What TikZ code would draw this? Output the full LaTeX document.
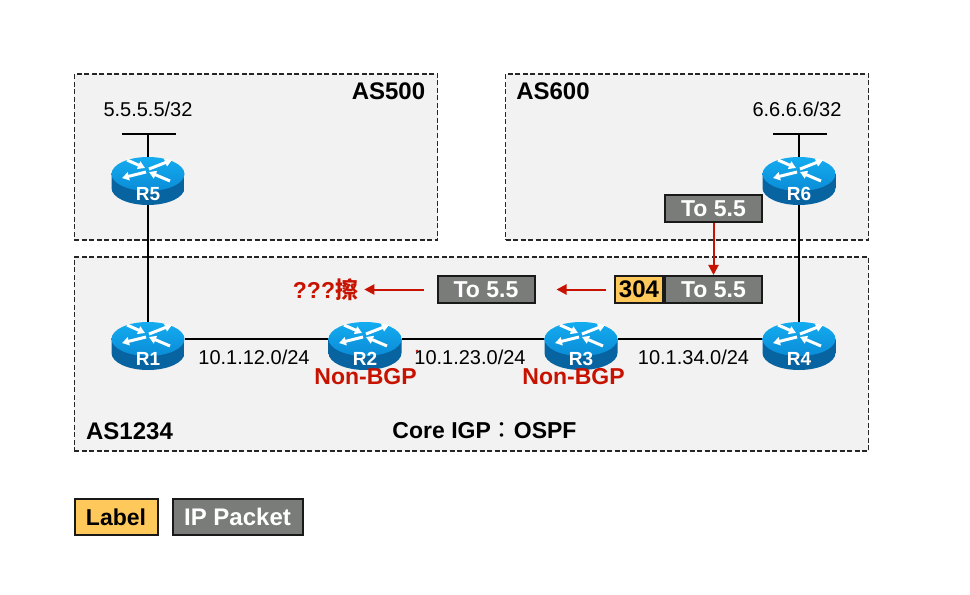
\documentclass[tikz,border=0pt]{standalone}
\usepackage{fontspec}
\setmainfont{Liberation Sans}
\newfontfamily\cjk{Noto Sans CJK TC}
\usetikzlibrary{arrows.meta,positioning,shapes.geometric}
\definecolor{asgrey}{RGB}{241,242,241}
\definecolor{pktgrey}{RGB}{122,124,122}
\definecolor{labelyellow}{RGB}{255,200,90}
\definecolor{alertred}{RGB}{200,18,0}
\definecolor{routertop}{RGB}{20,172,240}
\definecolor{routermid}{RGB}{10,140,215}
\definecolor{routerside}{RGB}{18,128,190}
\definecolor{routeredge}{RGB}{8,100,160}
\newcommand{\fsize}[1]{\fontsize{#1bp}{#1bp}\selectfont}

\begin{document}
\begin{tikzpicture}[
			x=1bp, y=-1bp,
			asbox/.style={rectangle, draw=black!85, fill=asgrey, dash pattern=on 5bp off 2.5bp, line width=1.4bp, inner sep=0pt},
			astext/.style={font=\fsize{24}\bfseries, inner sep=0pt},
			nettext/.style={font=\fsize{20}, inner sep=0pt},
			redtext/.style={font=\fsize{23}\bfseries, text=alertred, inner sep=0pt},
			routerbody/.style={ellipse, minimum width=73bp, minimum height=34bp, inner sep=0pt, outer sep=0pt},
			routertext/.style={font=\fsize{19}\bfseries, text=white, inner sep=0pt},
			link/.style={draw=black, line width=2bp},
			pktbox/.style={rectangle, draw=black!90, fill=pktgrey, line width=2bp, inner sep=0pt, minimum width=97bp, minimum height=27bp, text=white, font=\fsize{23}\bfseries},
			lblbox/.style={rectangle, draw=black!90, fill=labelyellow, line width=2bp, inner sep=0pt, minimum height=27bp, text=black, font=\fsize{24}\bfseries},
			arrow/.style={->, >={Triangle[width=10bp,length=10bp]}, draw=alertred, fill=alertred, line width=2bp},
			routerarrow/.style={white, line width=3bp, -{Triangle[width=8bp,length=7bp]}},
			routerpic/.pic={
				\shade[left color=routeredge, middle color=routerside, right color=routeredge]
					(-36.5,0) -- (-36.5,14) .. controls (-36.5,23.5) and (-20,31) .. (0,31)
					.. controls (20,31) and (36.5,23.5) .. (36.5,14) -- (36.5,0) -- cycle;
				\shade[top color=routertop, bottom color=routermid] (0,0) ellipse [x radius=36.5, y radius=17];
				\draw[routerarrow] (-21,-14) -- (-3,-6);
				\draw[routerarrow] (1,-5) -- (24,-14);
				\draw[routerarrow] (-2,-2) -- (-26,4);
				\draw[routerarrow] (22,7) -- (1,-2);
			}
			]
			\useasboundingbox (0,0) rectangle (970,595);

			% AS areas
			\node[asbox, minimum width=363bp, minimum height=166bp] (as500) at (256,157) {};
			\node[asbox, minimum width=363bp, minimum height=166bp] (as600) at (687,157) {};
			\node[asbox, minimum width=794bp, minimum height=194bp] (as1234) at (471.5,354) {};
			\node[astext] (as500text) at (388.5,91) {AS500};
			\node[astext] (as600text) at (553,91) {AS600};
			\node[astext] (as1234text) at (129.5,431) {AS1234};
			\node[astext, font=\fsize{23}\bfseries] (coretext) at (484.5,431) {Core IGP{\cjk\mdseries ：}OSPF};

			% Routers
			\foreach \name/\xpos/\ypos in {R1/148/339,R2/365/339,R3/581/339,R4/799/339,R5/148/174,R6/799/174}
				\node[routerbody] (\name) at (\xpos,\ypos) {};

			% Networks
			\coordinate (net5) at (148,134);
			\coordinate (net6) at (799,134);
			\coordinate (net5l) at (122,134);
			\coordinate (net5r) at (176,134);
			\coordinate (net6l) at (773,134);
			\coordinate (net6r) at (827,134);
			\draw[link] (net5l) -- (net5r);
			\draw[link] (net6l) -- (net6r);
			\draw[link] (net5) -- (R5);
			\draw[link] (net6) -- (R6);
			\draw[link] (R5) -- (R1);
			\draw[link] (R6) -- (R4);
			\draw[link] (R1) -- (R2);
			\draw[link] (R2) -- (R3);
			\draw[link] (R3) -- (R4);

			\foreach \name in {R1,R2,R3,R4,R5,R6}{
				\pic at (\name) {routerpic};
				\node[routertext] (\name text) at ([yshift=-20bp]\name.center) {\name};
			}

			% Labels
			\node[nettext] (net5text) at (148,109) {5.5.5.5/32};
			\node[nettext] (net6text) at (797,109) {6.6.6.6/32};
			\node[nettext] (net12text) at (254,357) {10.1.12.0/24};
			\node[nettext] (net23text) at (470,357) {10.1.23.0/24};
			\node[nettext] (net34text) at (693.5,357) {10.1.34.0/24};
			\node[redtext] (nonbgp2) at (365.5,377) {Non-BGP};
			\node[redtext] (nonbgp3) at (573.5,377) {Non-BGP};
			\node[circle, fill=alertred, inner sep=0pt, minimum size=3bp] (reddot) at (417,351) {};

			% Packets
			\node[pktbox] (toppkt) at (713.5,208.5) {To 5.5};
			\node[lblbox, minimum width=48bp] (stacklabel) at (639,289.5) {304};
			\node[pktbox, right=0pt of stacklabel] (stackpkt) {To 5.5};
			\node[pktbox] (poppkt) at (486,289.5) {To 5.5};
			\node[redtext] (erasetext) at (325.5,289.5) {???{\cjk 擦}};

			% Arrows
			\draw[arrow] (toppkt) -- (toppkt |- stackpkt.north);
			\draw[arrow, shorten <=8bp, shorten >=21bp] (stacklabel) -- (poppkt);
			\draw[arrow, shorten <=13bp, shorten >=6bp] (poppkt) -- (erasetext);

			% Legend
			\node[lblbox, minimum width=83bp, minimum height=36bp, font=\fsize{23}\bfseries] (legendlabel) at (116,517) {Label};
			\node[pktbox, minimum width=130bp, minimum height=36bp, font=\fsize{24}\bfseries] (legendpkt) at (237.5,517) {IP Packet};
		\end{tikzpicture}
\end{document}
